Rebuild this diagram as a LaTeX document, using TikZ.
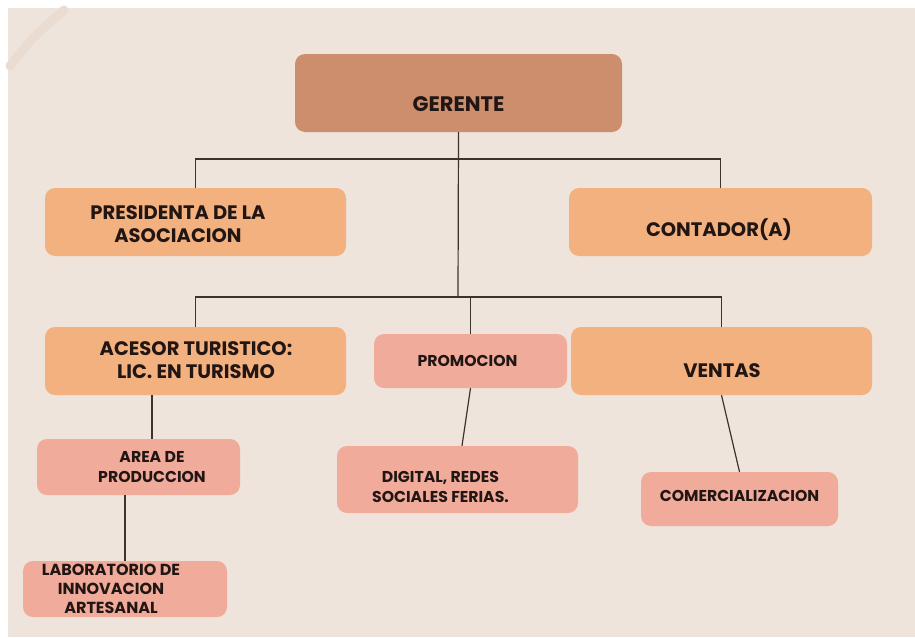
\documentclass[tikz,border=0pt]{standalone}
\usepackage{fontspec}
\setmainfont{Poppins}
\definecolor{bg}{HTML}{EEE4DB}
\definecolor{gerc}{HTML}{CC8E6C}
\definecolor{orc}{HTML}{F2B17F}
\definecolor{pkc}{HTML}{F0AB9B}
\definecolor{linec}{HTML}{3A3330}
\definecolor{txtc}{HTML}{221614}
\definecolor{deco}{HTML}{EBDCD2}
\begin{document}
\begin{tikzpicture}[x=1pt,y=-1pt,
  box/.style={rounded corners=10pt, inner sep=0pt, draw=none},
  gbox/.style={box, fill=gerc},
  obox/.style={box, fill=orc},
  pbox/.style={box, fill=pkc},
  tx/.style={text=txtc, inner sep=0pt, align=center, font=\bfseries},
  tbig/.style={tx, font=\bfseries\fontsize{21}{25}\selectfont},
  tmid/.style={tx, font=\bfseries\fontsize{19.5}{23}\selectfont},
  tsml/.style={tx, font=\bfseries\fontsize{15.7}{20}\selectfont},
  tsmm/.style={tx, font=\bfseries\fontsize{16}{19}\selectfont},
  conn/.style={draw=linec, line width=1.2pt}]
\useasboundingbox (0,0) rectangle (915,637);
\fill[white] (0,0) rectangle (915,637);
\fill[bg] (8,8) rectangle (915,637);
\draw[deco, line width=9pt, line cap=round] (10,66) .. controls (32,38) .. (64,10);

% boxes
\node[gbox, minimum width=327pt, minimum height=78pt] (ger) at (458.5,93) {};
\node[obox, minimum width=301pt, minimum height=68pt] (pres) at (195.5,222) {};
\node[obox, minimum width=303pt, minimum height=68pt] (cont) at (720.5,222) {};
\node[obox, minimum width=301pt, minimum height=68pt] (aces) at (195.5,361) {};
\node[pbox, minimum width=193pt, minimum height=54pt] (prom) at (470.5,361) {};
\node[obox, minimum width=301pt, minimum height=68pt] (vent) at (721.5,361) {};
\node[pbox, minimum width=203pt, minimum height=56pt] (area) at (138.5,467) {};
\node[pbox, minimum width=241pt, minimum height=67pt] (dig) at (457.5,479.5) {};
\node[pbox, minimum width=197pt, minimum height=54pt] (com) at (739.5,499) {};
\node[pbox, minimum width=204pt, minimum height=56pt] (lab) at (125,589) {};

% texts
\node[tbig] (gerT) at (458.5,104.5) {GERENTE};
\node[tmid] (presT) at (178,224) {PRESIDENTA DE LA\\ASOCIACION};
\node[tmid] (contT) at (719,230) {CONTADOR(A)};
\node[tmid] (acesT) at (196,360.5) {ACESOR TURISTICO:\\LIC. EN TURISMO};
\node[tsml] (promT) at (467.5,361) {PROMOCION};
\node[tmid] (ventT) at (722,370.5) {VENTAS};
\node[tsml] (areaT) at (152,467.5) {AREA DE\\PRODUCCION};
\node[tsml] (digT) at (440.5,487) {DIGITAL, REDES\\SOCIALES FERIAS.};
\node[tsml] (comT) at (739.5,496) {COMERCIALIZACION};
\node[tsmm] (labT) at (111,589) {LABORATORIO DE\\INNOVACION\\ARTESANAL};

% connectors
\coordinate (busA) at (458,159);
\coordinate (busB) at (458,297);
\draw[conn] (ger.south) -- (busB);
\draw[conn] (pres.north) |- (busA) -| (cont.north);
\draw[conn] (aces.north) |- (busB) -| (vent.north);
\draw[conn] (prom.north |- busB) -- (prom.north);
\draw[conn] (aces.south -| areaT) -- (area.north -| areaT);
\draw[conn] (area.south -| lab.north) -- (lab.north);
\draw[conn] (prom.south) -- ([xshift=4.5pt]dig.north);
\draw[conn] (vent.south) -- (com.north);
\end{tikzpicture}
\end{document}
